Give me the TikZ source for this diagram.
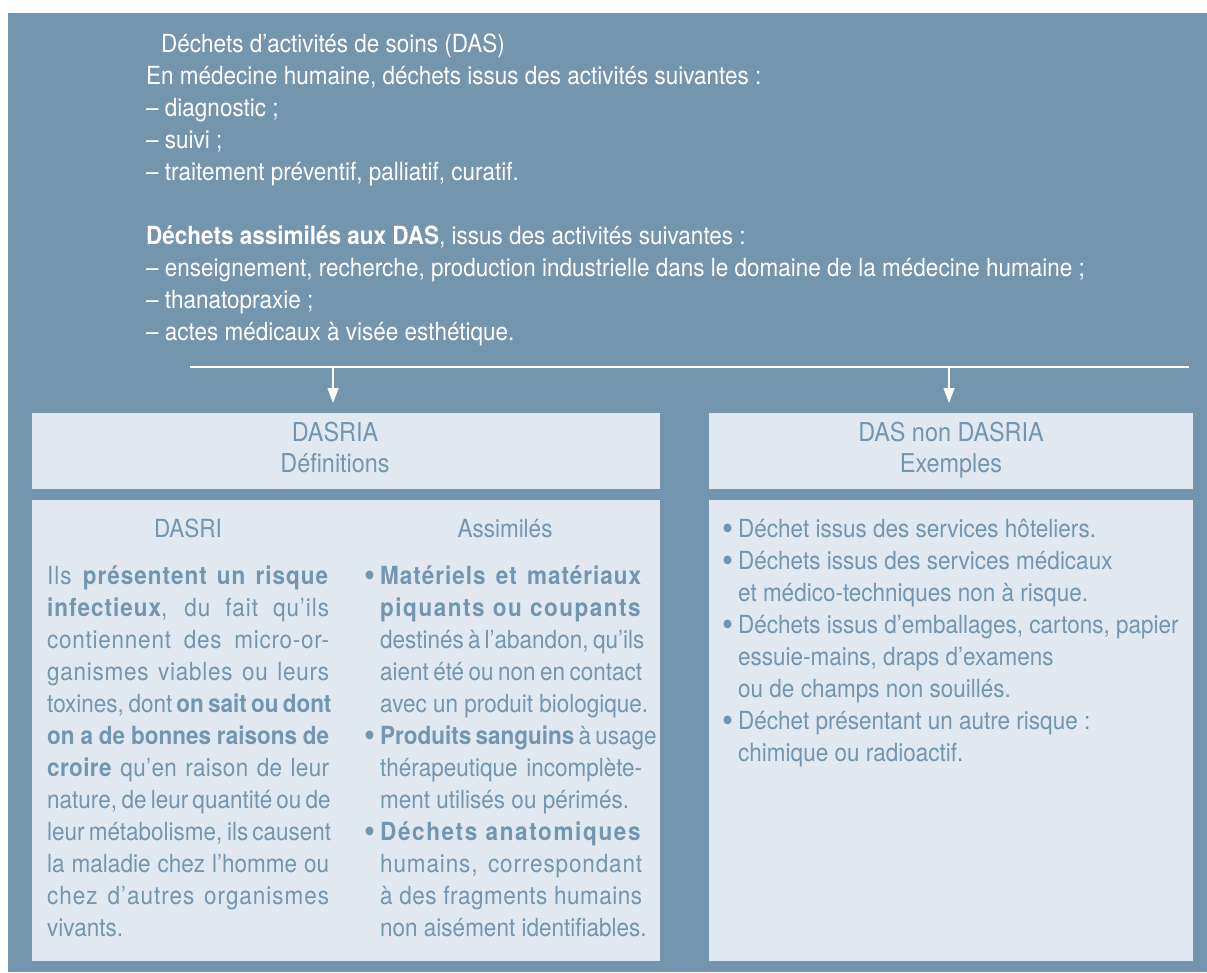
\documentclass[tikz,border=0pt]{standalone}
\usepackage{fontspec}
\setmainfont{TeX Gyre Heros}[FakeStretch=0.9]
\usetikzlibrary{arrows.meta}
\definecolor{slate}{RGB}{116,149,174}
\definecolor{pale}{RGB}{225,232,240}
\newcommand\jlA[1]{\makebox[282pt][s]{#1}}
\newcommand\jlB[1]{\makebox[262pt][s]{#1}}
\newcommand\lsp[2]{{\addfontfeatures{LetterSpace=#1}#2}}
\newcommand\bul{\llap{\raisebox{-3.5pt}{\fontsize{35}{32}\selectfont\textbullet}\hspace{5pt}}}
\begin{document}
\begin{tikzpicture}[x=1pt,y=-1pt,
  wtxt/.style={text=white, inner sep=0pt, font=\fontsize{25}{32}\selectfont},
  btxt/.style={text=slate, inner sep=0pt, font=\fontsize{25}{32}\selectfont},
  htxt/.style={text=slate, inner sep=0pt, align=center, font=\fontsize{26}{31}\selectfont},
  panel/.style={fill=pale, draw=none, anchor=north west, inner sep=0pt},
  arr/.style={draw=white, line width=1.3pt, -{Triangle[length=15pt,width=11pt]}, shorten >=10pt},
]
\useasboundingbox (0,0) rectangle (1207,972);
\fill[slate] (8,13) rectangle (1207,972);

% intro text (base anchor = last line's baseline)
\node[wtxt, anchor=base west, align=left] (intro) at (146,340) {%
\hspace*{15pt}Déchets d’activités de soins (DAS)\\
En médecine humaine, déchets issus des activités suivantes :\\
– diagnostic ;\\
– suivi ;\\
– traitement préventif, palliatif, curatif.\\[32pt]
\textbf{Déchets assimilés aux DAS}, issus des activités suivantes :\\
– enseignement, recherche, production industrielle dans le domaine de la médecine humaine ;\\
– thanatopraxie ;\\
– actes médicaux à visée esthétique.};

% boxes
\node[panel, minimum width=628pt, minimum height=76pt] (hdrL) at (32,413) {};
\node[panel, minimum width=628pt, minimum height=461pt] (bodyL) at (32,500) {};
\node[panel, minimum width=484pt, minimum height=76pt] (hdrR) at (709,413) {};
\node[panel, minimum width=484pt, minimum height=461pt] (bodyR) at (709,500) {};

% connectors
\coordinate (lineA) at (190,367);
\coordinate (lineB) at (1189,367);
\coordinate (jL) at (333,367);
\coordinate (jR) at (949,367);
\draw[white, line width=1.3pt] (lineA) -- (lineB);
\draw[arr] (jL) -- (jL |- hdrL.north);
\draw[arr] (jR) -- (jR |- hdrR.north);

% headers
\node[htxt, anchor=base] (tHL) at (335,472) {DASRIA\\Définitions};
\node[htxt, anchor=base] (tHR) at (951,472) {DAS non DASRIA\\Exemples};
\node[btxt, anchor=base] (tDASRI) at (188,537) {DASRI};
\node[btxt, anchor=base] (tAssim) at (505,537) {Assimilés};

% DASRI text
\node[btxt, anchor=base west, align=left] (dasri) at (47,936) {%
\jlA{\lsp{4}{Ils \textbf{présentent un risque}}}\\
\jlA{\lsp{4}{\textbf{infectieux}, du fait qu’ils}}\\
\jlA{\lsp{3}{contiennent des micro-or-}}\\
\jlA{\lsp{3}{ganismes viables ou leurs}}\\
\jlA{toxines, dont \textbf{on sait ou dont}}\\
\jlA{\textbf{on a de bonnes raisons de}}\\
\jlA{\lsp{1.5}{\textbf{croire} qu’en raison de leur}}\\
\jlA{nature, de leur quantité ou de}\\
\jlA{leur métabolisme, ils causent}\\
\jlA{la maladie chez l’homme ou}\\
\jlA{\lsp{4}{chez d’autres organismes}}\\
vivants.};

% Assimiles text
\node[btxt, anchor=base west, align=left] (assim) at (380,936) {%
\bul\jlB{\lsp{4}{\textbf{Matériels et matériaux}}}\\
\jlB{\lsp{6}{\textbf{piquants ou coupants}}}\\
\jlB{destinés à l’abandon, qu’ils}\\
\jlB{aient été ou non en contact}\\
avec un produit biologique.\\
\bul\jlB{\textbf{Produits sanguins} à usage}\\
\jlB{thérapeutique incomplète-}\\
ment utilisés ou périmés.\\
\bul\jlB{\lsp{6.5}{\textbf{Déchets anatomiques}}}\\
\jlB{\lsp{3.5}{humains, correspondant}}\\
\jlB{\lsp{2}{à des fragments humains}}\\
non aisément identifiables.};

% right column
\node[btxt, anchor=base west, align=left] (exem) at (738,761) {%
\bul Déchet issus des services hôteliers.\\
\bul Déchets issus des services médicaux\\
et médico-techniques non à risque.\\
\bul Déchets issus d’emballages, cartons, papier\\
essuie-mains, draps d’examens\\
ou de champs non souillés.\\
\bul Déchet présentant un autre risque :\\
chimique ou radioactif.};
\end{tikzpicture}
\end{document}
